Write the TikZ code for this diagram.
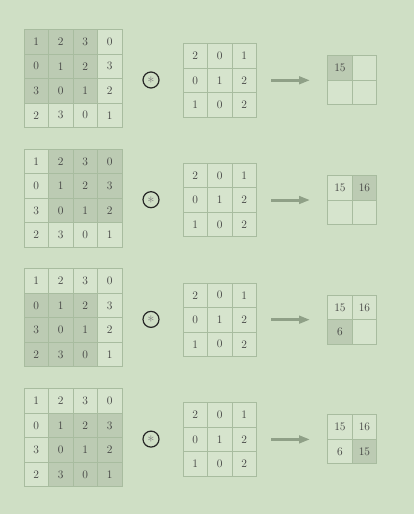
\documentclass[tikz,border=0pt]{standalone}
\usetikzlibrary{arrows.meta}
\definecolor{bg}{HTML}{CFDFC5}
\definecolor{cellw}{HTML}{D6E4CD}
\definecolor{cells}{HTML}{BCCBB3}
\definecolor{gridc}{HTML}{A8BC9F}
\definecolor{arr}{HTML}{8FA087}
\tikzset{
  cell/.style={draw=gridc, line width=0.9pt, fill=cellw, minimum size=24.5pt,
    inner sep=0pt, outer sep=0pt, font=\fontsize{11.5}{13}\selectfont, text=black!75},
  hl/.style={fill=cells},
  conv/.style={circle, draw=black!85, line width=1.2pt, minimum size=16pt, inner sep=0pt,
    font=\fontsize{14}{14}\selectfont},
  arrowc/.style={draw=arr, line width=3pt, -{Triangle[length=11pt,width=7.5pt]}}
}
\begin{document}
\begin{tikzpicture}[x=1pt,y=-1pt]
\fill[bg] (0,0) rectangle (414,514);
\useasboundingbox (0,0) rectangle (414,514);
\foreach \p/\cy/\ro/\co in {1/78.5/0/0, 2/198.2/0/1, 3/317.9/1/0, 4/437.6/1/1}{
  % input matrix
  \foreach \row [count=\r] in {{1,2,3,0},{0,1,2,3},{3,0,1,2},{2,3,0,1}}{
    \foreach \v [count=\c] in \row{
      \pgfmathtruncatemacro{\rr}{\r-\ro}
      \pgfmathtruncatemacro{\cc}{\c-\co}
      \pgfmathtruncatemacro{\ins}{(\rr>=1)&&(\rr<=3)&&(\cc>=1)&&(\cc<=3)}
      \ifnum\ins=1
        \node[cell,hl] (m\p-\r-\c) at ({24+24.5*(\c-0.5)},{\cy-49+24.5*(\r-0.5)}) {\v};
      \else
        \node[cell] (m\p-\r-\c) at ({24+24.5*(\c-0.5)},{\cy-49+24.5*(\r-0.5)}) {\v};
      \fi
    }
  }
  % convolution symbol
  \node[conv] (op\p) at (151,\cy+1.5) {\textcolor{black!50}{$\ast$}};
  % kernel
  \foreach \row [count=\r] in {{2,0,1},{0,1,2},{1,0,2}}{
    \foreach \v [count=\c] in \row{
      \node[cell] (k\p-\r-\c) at ({183+24.5*(\c-0.5)},{\cy+1.8-36.75+24.5*(\r-0.5)}) {\v};
    }
  }
  % output empty grid
  \foreach \r in {1,2}{
    \foreach \c in {1,2}{
      \node[cell] (o\p-\r-\c) at ({327.7+24.5*(\c-0.5)},{\cy+1.8-24.5+24.5*(\r-0.5)}) {};
    }
  }
  \coordinate (as\p) at (271,\cy+1.8);
  \coordinate (ae\p) at (310,\cy+1.8);
  \draw[arrowc] (as\p) -- (ae\p);
}
% output values
\node[cell,hl] at (o1-1-1) {15};
\node[cell] at (o2-1-1) {15};
\node[cell,hl] at (o2-1-2) {16};
\node[cell] at (o3-1-1) {15};
\node[cell] at (o3-1-2) {16};
\node[cell,hl] at (o3-2-1) {6};
\node[cell] at (o4-1-1) {15};
\node[cell] at (o4-1-2) {16};
\node[cell] at (o4-2-1) {6};
\node[cell,hl] at (o4-2-2) {15};
\end{tikzpicture}
\end{document}
